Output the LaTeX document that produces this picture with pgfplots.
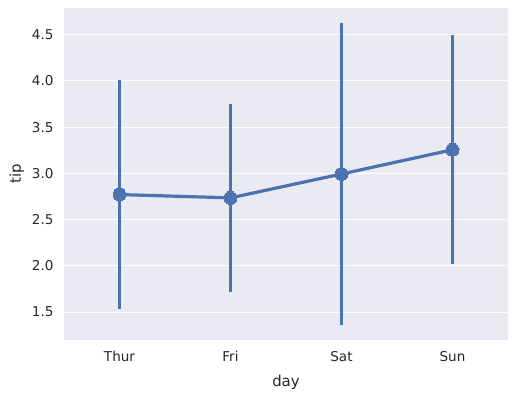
\documentclass[border=0pt]{standalone}
\usepackage{pgfplots}
\pgfplotsset{compat=1.18}
\usepackage{fontspec}
\setmainfont{DejaVu Sans}
\definecolor{bgc}{HTML}{EAEAF2}
\definecolor{ln}{HTML}{4C72B0}
\definecolor{txt}{HTML}{262626}
\begin{document}
\begin{tikzpicture}[x=1bp,y=1bp]
\path[use as bounding box] (-64bp,-56bp) rectangle (454bp,340bp);
\begin{axis}[
  scale only axis, width=444bp, height=332bp,
  at={(0,0)}, anchor=south west,
  xmin=-0.5, xmax=3.5, ymin=1.199, ymax=4.787,
  axis background/.style={fill=bgc},
  axis line style={draw=none},
  major tick length=0pt,
  ymajorgrids, grid style={white, line width=1bp},
  xtick={0,1,2,3}, xticklabels={Thur,Fri,Sat,Sun},
  ytick={1.5,2,2.5,3,3.5,4,4.5},
  /pgf/number format/assume math mode=true,
  yticklabel style={/pgf/number format/fixed,/pgf/number format/fixed zerofill,/pgf/number format/precision=1, xshift=-7bp},
  xticklabel style={yshift=-8bp},
  tick label style={font=\fontsize{13.6}{16}\selectfont, text=txt},
  xlabel={day}, ylabel={tip},
  label style={font=\fontsize{15}{17}\selectfont, text=txt},
  xlabel style={yshift=-6bp},
  ylabel style={yshift=1bp},
]
\addplot[ln, line width=3.6bp, forget plot] coordinates {(0,1.531) (0,4.011)};
\addplot[ln, line width=3.6bp, forget plot] coordinates {(1,1.716) (1,3.754)};
\addplot[ln, line width=3.6bp, forget plot] coordinates {(2,1.362) (2,4.624)};
\addplot[ln, line width=3.6bp, forget plot] coordinates {(3,2.020) (3,4.490)};
\addplot[ln, line width=3.2bp, mark=*, mark size=6.5bp, mark options={fill=ln, draw=ln, line width=0pt}] coordinates {
(0,2.771) (1,2.735) (2,2.993) (3,3.255)};
\end{axis}
\end{tikzpicture}
\end{document}
